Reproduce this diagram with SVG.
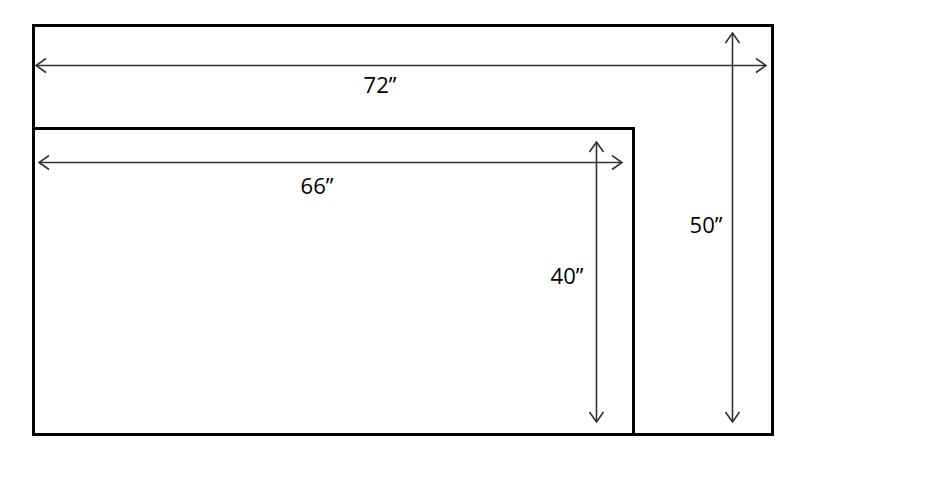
<svg xmlns="http://www.w3.org/2000/svg" width="940" height="500" viewBox="0 0 940 500">
<style>
.box{fill:none;stroke:#000;stroke-width:3}
.dim{fill:none;stroke:#333;stroke-width:1.6}
.lbl{font-family:"Open Sans","Liberation Sans",sans-serif;font-size:22px;fill:#000;text-anchor:middle}
</style>
<defs>
<marker id="ah" viewBox="0 0 12 16" refX="11" refY="8" markerWidth="12" markerHeight="16" markerUnits="userSpaceOnUse" orient="auto-start-reverse">
<polyline points="1,1 11,8 1,15" fill="none" stroke="#333" stroke-width="1.6"/>
</marker>
</defs>
<rect width="940" height="500" fill="#fff"/>
<g id="outer"><rect class="box" x="33.5" y="25.5" width="739" height="409"/></g>
<g id="inner"><rect class="box" x="33.5" y="128.5" width="600" height="306"/></g>
<g id="connectors">
<line class="dim" x1="36" y1="65.5" x2="766" y2="65.5" marker-start="url(#ah)" marker-end="url(#ah)"/>
<line class="dim" x1="732.5" y1="33" x2="732.5" y2="422" marker-start="url(#ah)" marker-end="url(#ah)"/>
<line class="dim" x1="39" y1="162.5" x2="622" y2="162.5" marker-start="url(#ah)" marker-end="url(#ah)"/>
<line class="dim" x1="596.5" y1="142" x2="596.5" y2="422" marker-start="url(#ah)" marker-end="url(#ah)"/>
</g>
<g id="labels">
<text class="lbl" x="380" y="93">72”</text>
<text class="lbl" x="317" y="194">66”</text>
<text class="lbl" x="706" y="233">50”</text>
<text class="lbl" x="567" y="284">40”</text>
</g>
</svg>
